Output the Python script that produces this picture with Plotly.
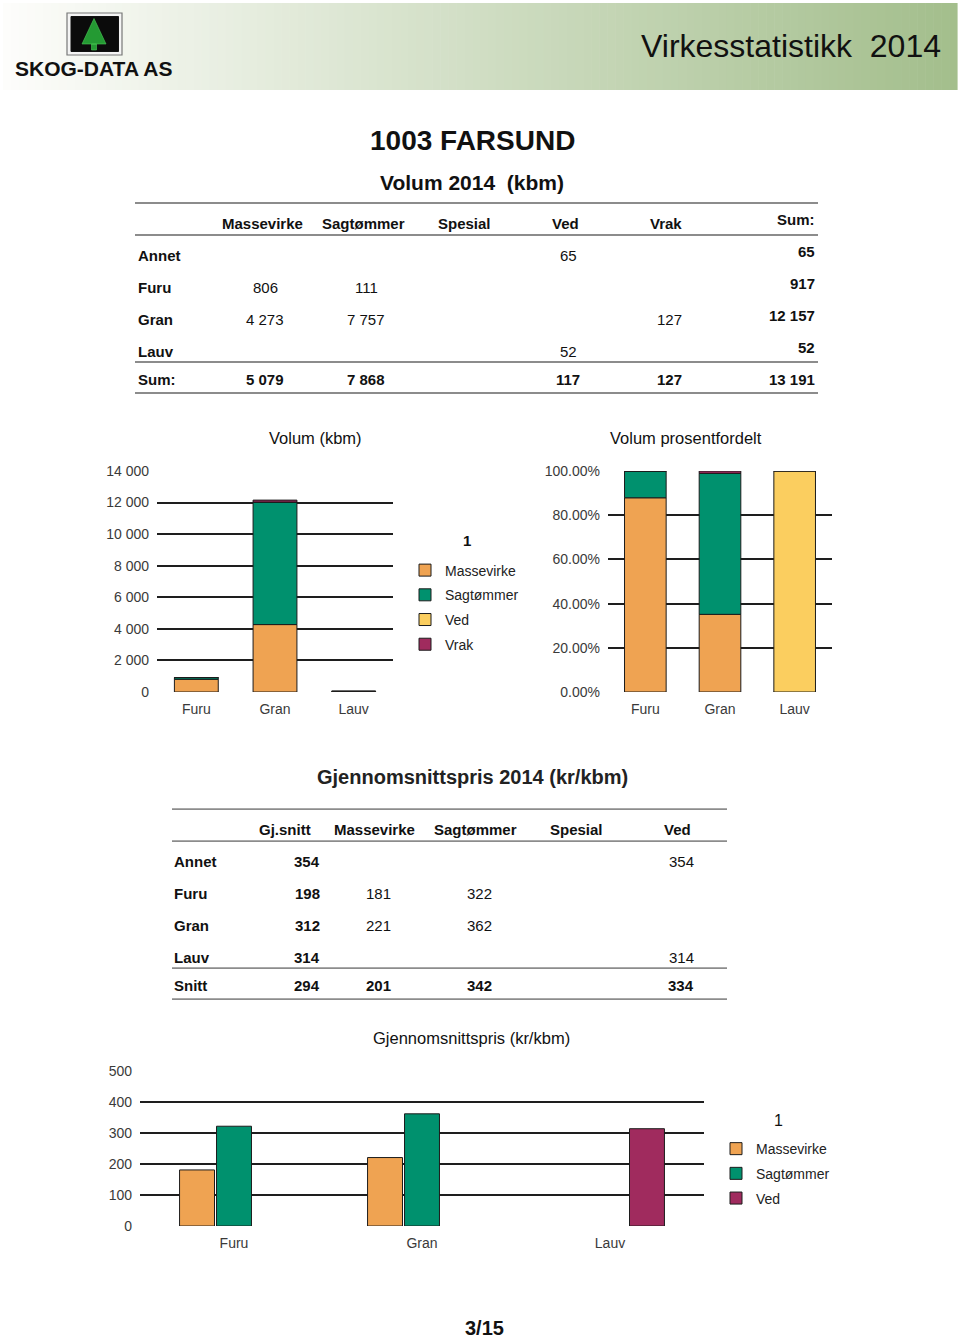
import plotly.graph_objects as go

W, H = 960, 1338
FONT = "Liberation Sans, Arial, sans-serif"

# ---------------- data ----------------
species = ["Annet", "Furu", "Gran", "Lauv"]
assortments = ["Massevirke", "Sagtømmer", "Spesial", "Ved", "Vrak"]

vol_massevirke = [None, 806, 4273, None]
vol_sagtommer = [None, 111, 7757, None]
vol_spesial = [None, None, None, None]
vol_ved = [65, None, None, 52]
vol_vrak = [None, None, 127, None]
vol_row_sum = [65, 917, 12157, 52]
vol_col_sum = [5079, 7868, None, 117, 127]
vol_total = 13191

price_cols = ["Gj.snitt", "Massevirke", "Sagtømmer", "Spesial", "Ved"]
price_gjsnitt = [354, 198, 312, 314]
price_massevirke = [None, 181, 221, None]
price_sagtommer = [None, 322, 362, None]
price_spesial = [None, None, None, None]
price_ved = [354, None, None, 314]
price_snitt = [294, 201, 342, None, 334]

chart_species = ["Furu", "Gran", "Lauv"]
vol_ticks = [0, 2000, 4000, 6000, 8000, 10000, 12000, 14000]
pct_ticks = [0, 0.2, 0.4, 0.6, 0.8, 1.0]
price_ticks = [0, 100, 200, 300, 400, 500]

colors = {"Massevirke": "#EFA352", "Sagtømmer": "#00916E", "Ved": "#FBCE5F", "Vrak": "#A02B5E"}
price_colors = {"Massevirke": "#EFA352", "Sagtømmer": "#00916E", "Ved": "#A02B5E"}

# page-pixel -> paper mapping (the photographed page shows a small vertical offset/scale)
Y_OFF, Y_SCALE = 8.0, 0.988


def px(x):
    return x / W


def py(y):
    return 1 - ((y - Y_OFF) / Y_SCALE) / H


def fmt(v):
    if v is None:
        return ""
    return f"{v:,}".replace(",", " ")


fig = go.Figure()
shapes = []
ann = []


def text(x, y, s, size=15, bold=False, anchor="center", color="#111", family=FONT):
    if anchor == "left":
        x -= 2
    elif anchor == "right":
        x += 2
    ann.append(dict(x=px(x), y=py(y), xref="paper", yref="paper", text=f"<b>{s}</b>" if bold else s,
                    showarrow=False, xanchor=anchor, yanchor="middle",
                    font=dict(size=size, color=color, family=family)))


def hline(x0, x1, y, color="#8c8c8c", width=1.8):
    shapes.append(dict(type="line", xref="paper", yref="paper", x0=px(x0), x1=px(x1), y0=py(y), y1=py(y),
                       line=dict(color=color, width=width)))


# ---------------- header ----------------
n = 120
c0 = (253, 253, 251)
c1 = (163, 190, 140)
x0h, x1h = 3, 957
for i in range(n):
    t = i / (n - 1)
    c = tuple(int(round(c0[k] + (c1[k] - c0[k]) * t)) for k in range(3))
    xa = x0h + (x1h - x0h) * i / n
    xb = x0h + (x1h - x0h) * (i + 1) / n + 0.6
    shapes.append(dict(type="rect", xref="paper", yref="paper", x0=px(xa), x1=px(xb), y0=py(90), y1=py(3),
                       line=dict(width=0), fillcolor=f"rgb{c}", layer="below"))
# logo
shapes.append(dict(type="rect", xref="paper", yref="paper", x0=px(67), x1=px(122), y0=py(55), y1=py(13),
                   line=dict(color="#777", width=1.2), fillcolor="#f4f4f4"))
shapes.append(dict(type="rect", xref="paper", yref="paper", x0=px(71), x1=px(118.5), y0=py(51.5), y1=py(16.5),
                   line=dict(color="#111", width=1), fillcolor="#0b0b0b"))
tree = (f"M {px(94)} {py(18.5)} L {px(106)} {py(44)} L {px(82)} {py(44)} Z "
        f"M {px(91.5)} {py(44)} L {px(96.5)} {py(44)} L {px(96.5)} {py(50)} L {px(91.5)} {py(50)} Z")
shapes.append(dict(type="path", xref="paper", yref="paper", path=tree, fillcolor="#249a33",
                   line=dict(color="#49c957", width=0.6)))
text(94, 68, "SKOG-DATA AS", size=21, bold=True, color="#111")
text(941, 46, "Virkesstatistikk  2014", size=32, anchor="right", color="#111")

# ---------------- titles ----------------
text(472, 140, "1003 FARSUND", size=28, bold=True)
text(472, 182, "Volum 2014  (kbm)", size=21, bold=True)

# ---------------- table 1 ----------------
hline(135, 818, 203)
hline(135, 818, 235)
hline(135, 818, 362)
hline(135, 818, 393)
col_x1 = [262, 363, 464, 565, 666]
for name, cx in zip(assortments, col_x1):
    text(cx, 223, name, bold=True)
text(815, 219, "Sum:", bold=True, anchor="right")
row_y1 = [255, 287, 319, 351]
vol_cols = [vol_massevirke, vol_sagtommer, vol_spesial, vol_ved, vol_vrak]
for r, (sp, ry) in enumerate(zip(species, row_y1)):
    text(138, ry, sp, bold=True, anchor="left")
    for col, cx in zip(vol_cols, col_x1):
        if col[r] is not None:
            text(cx + 3, ry, fmt(col[r]))
    text(815, ry - 4, fmt(vol_row_sum[r]), bold=True, anchor="right")
text(138, 379, "Sum:", bold=True, anchor="left")
for v, cx in zip(vol_col_sum, col_x1):
    if v is not None:
        text(cx + 3, 379, fmt(v), bold=True)
text(815, 379, fmt(vol_total), bold=True, anchor="right")

# ---------------- chart 1: stacked volume ----------------
stack_series = [("Massevirke", vol_massevirke), ("Sagtømmer", vol_sagtommer), ("Ved", vol_ved), ("Vrak", vol_vrak)]
base = [0, 0, 0]
for name, vals in stack_series:
    v = [vals[i] or 0 for i in range(1, 4)]
    fig.add_trace(go.Bar(x=chart_species, y=v, base=list(base), name=name, offsetgroup="s1",
                         marker=dict(color=colors[name], line=dict(color="#1c1c1c", width=1)),
                         xaxis="x", yaxis="y", legend="legend", legendgroup=name + "1"))
    base = [b + vv for b, vv in zip(base, v)]

# ---------------- chart 2: percent ----------------
base = [0, 0, 0]
for name, vals in stack_series:
    v = [(vals[i] or 0) / vol_row_sum[i] for i in range(1, 4)]
    fig.add_trace(go.Bar(x=chart_species, y=v, base=list(base), name=name, offsetgroup="s2",
                         marker=dict(color=colors[name], line=dict(color="#1c1c1c", width=1)),
                         xaxis="x2", yaxis="y2", showlegend=False))
    base = [b + vv for b, vv in zip(base, v)]

text(315, 438, "Volum (kbm)", size=16.5)
text(686, 438, "Volum prosentfordelt", size=16.5)
text(467, 540, "1", size=15, bold=True)

# ---------------- table 2 ----------------
text(472, 777, "Gjennomsnittspris 2014 (kr/kbm)", size=20, bold=True, color="#222")
hline(172, 727, 809)
hline(172, 727, 841)
hline(172, 727, 968)
hline(172, 727, 999)
col_x2 = [285, 374, 475, 576, 677]
for name, cx in zip(price_cols, col_x2):
    text(cx, 829, name, bold=True)
row_y2 = [861, 893, 925, 957]
pcols = [price_massevirke, price_sagtommer, price_spesial, price_ved]
for r, (sp, ry) in enumerate(zip(species, row_y2)):
    text(174, ry, sp, bold=True, anchor="left")
    text(320, ry, fmt(price_gjsnitt[r]), bold=True, anchor="right")
    for col, cx in zip(pcols, col_x2[1:]):
        if col[r] is not None:
            text(cx + 4, ry, fmt(col[r]))
text(174, 985, "Snitt", bold=True, anchor="left")
text(320, 985, fmt(price_snitt[0]), bold=True, anchor="right")
for v, cx in zip(price_snitt[1:], col_x2[1:]):
    if v is not None:
        text(cx + 4, 985, fmt(v), bold=True)

# ---------------- chart 3: price grouped ----------------
price_series = [("Massevirke", price_massevirke), ("Sagtømmer", price_sagtommer), ("Ved", price_ved)]
for name, vals in price_series:
    fig.add_trace(go.Bar(x=chart_species, y=vals[1:4], name=name, offsetgroup=name,
                         marker=dict(color=price_colors[name], line=dict(color="#1c1c1c", width=1)),
                         xaxis="x3", yaxis="y3", legend="legend2", legendgroup=name + "3"))
text(471, 1038, "Gjennomsnittspris (kr/kbm)", size=16.5)
text(778, 1120, "1", size=16)

text(484, 1328, "3/15", size=20, bold=True)

# ---------------- axes ----------------
tickfont = dict(size=14, color="#3a3a3a", family=FONT)
grid = dict(showgrid=True, gridcolor="#1e1e1e", gridwidth=1.6, zeroline=False, showline=False,
            ticks="", tickfont=tickfont, ticklabelstandoff=7, fixedrange=True)
xax = dict(type="category", range=[-0.5, 2.5], showgrid=False, zeroline=False, showline=False,
           ticks="", tickfont=tickfont, ticklabelstandoff=7, fixedrange=True)

fig.update_layout(
    width=W, height=H, margin=dict(l=0, r=0, t=0, b=0),
    paper_bgcolor="white", plot_bgcolor="rgba(0,0,0,0)",
    font=dict(family=FONT, color="#111"),
    separators=". ",
    barmode="group", bargap=0.41, bargroupgap=0.055,
    shapes=shapes, annotations=ann,
    xaxis=dict(domain=[px(157), px(393)], anchor="y", **xax),
    yaxis=dict(domain=[py(692), py(471)], range=[0, 14000], tickvals=vol_ticks, tickformat=",.0f",
               anchor="x", **grid),
    xaxis2=dict(domain=[px(608), px(832)], anchor="y2", **xax),
    yaxis2=dict(domain=[py(692), py(471)], range=[0, 1], tickvals=pct_ticks, tickformat=".2%",
                anchor="x2", **grid),
    xaxis3=dict(domain=[px(140), px(704)], anchor="y3", **xax),
    yaxis3=dict(domain=[py(1226), py(1071)], range=[0, 500], tickvals=price_ticks, tickformat="d",
                anchor="x3", **grid),
    legend=dict(x=px(405), y=py(554.5), xanchor="left", yanchor="top", bgcolor="rgba(0,0,0,0)",
                font=dict(size=14, color="#222", family=FONT), tracegroupgap=3.5, traceorder="grouped"),
    legend2=dict(x=px(716), y=py(1133), xanchor="left", yanchor="top", bgcolor="rgba(0,0,0,0)",
                 font=dict(size=14, color="#222", family=FONT), tracegroupgap=3.5, traceorder="grouped"),
)

post = ("var d=document.getElementById('{plot_id}');"
        "document.documentElement.style.margin='0';document.documentElement.style.padding='0';"
        "document.body.style.margin='0';document.body.style.padding='0';"
        "document.body.style.overflow='hidden';"
        "d.style.position='absolute';d.style.left='0px';d.style.top='0px';")
fig.write_html("out.html", include_plotlyjs=True, config={"displayModeBar": False}, post_script=post)
